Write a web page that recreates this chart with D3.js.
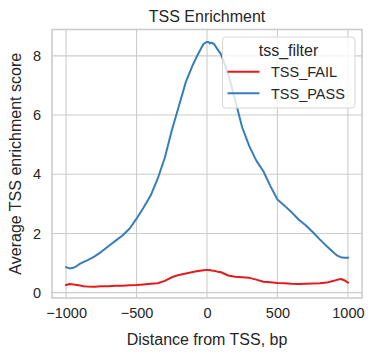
<!DOCTYPE html>
<html>
<head>
<meta charset="utf-8">
<script src="https://cdn.jsdelivr.net/npm/d3@7"></script>
<style>
html,body{margin:0;padding:0;background:#fff;}
svg{display:block;}
text{font-family:Arial,"Liberation Sans",sans-serif;fill:#262626;}
</style>
</head>
<body>
<svg id="chart" width="375" height="357"></svg>
<script>
const positions = [-1000,-975,-950,-925,-900,-875,-850,-800,-750,-700,-650,-600,-550,-500,-450,-400,-350,-300,-250,-200,-150,-100,-75,-50,-25,0,10,20,30,50,75,100,150,200,250,300,350,400,450,500,550,600,650,700,750,800,850,900,925,950,975,1000];
const passValues = [0.86,0.82,0.84,0.90,0.98,1.04,1.09,1.22,1.38,1.57,1.75,1.93,2.16,2.50,2.88,3.28,3.85,4.55,5.48,6.30,7.12,7.70,7.95,8.18,8.40,8.47,8.47,8.42,8.45,8.40,8.22,8.05,7.40,6.50,5.58,4.95,4.46,4.10,3.60,3.15,2.94,2.72,2.47,2.28,2.05,1.80,1.57,1.35,1.25,1.20,1.18,1.18];
const failValues = [0.26,0.29,0.28,0.26,0.24,0.22,0.21,0.20,0.22,0.22,0.23,0.23,0.25,0.26,0.28,0.30,0.32,0.40,0.52,0.60,0.65,0.70,0.72,0.74,0.76,0.77,0.76,0.77,0.75,0.74,0.71,0.69,0.58,0.54,0.52,0.50,0.44,0.37,0.35,0.33,0.32,0.30,0.29,0.30,0.31,0.32,0.34,0.40,0.44,0.46,0.42,0.34];
const seriesNames = ["TSS_FAIL","TSS_PASS"];
const seriesColors = ["#e41a1c","#377eb8"];
const xTicks = [-1000,-500,0,500,1000];
const yTicks = [0,2,4,6,8];

const svg = d3.select("#chart");
const L = 52, R = 362, T = 29.5, B = 298;
const x = d3.scaleLinear().domain([-1100,1100]).range([L,R]);
const y = d3.scaleLinear().domain([-0.18,8.89]).range([B,T]);

// grid
const g = svg.append("g");
g.selectAll(".vx").data(xTicks).enter().append("line")
  .attr("x1",d=>x(d)).attr("x2",d=>x(d)).attr("y1",T).attr("y2",B)
  .attr("stroke","#cccccc").attr("stroke-width",1.1);
g.selectAll(".hy").data(yTicks).enter().append("line")
  .attr("y1",d=>y(d)).attr("y2",d=>y(d)).attr("x1",L).attr("x2",R)
  .attr("stroke","#cccccc").attr("stroke-width",1.1);

// axes (tick labels via d3 axes)
const xAxis = d3.axisBottom(x).tickValues(xTicks).tickSize(0).tickPadding(10).tickFormat(d=>d3.format("")(d).replace("-","\u2212"));
const yAxis = d3.axisLeft(y).tickValues(yTicks).tickSize(0).tickPadding(11).tickFormat(d3.format("d"));
const gx = svg.append("g").attr("transform",`translate(0,${B})`).call(xAxis);
const gy = svg.append("g").attr("transform",`translate(${L},0)`).call(yAxis);
[gx,gy].forEach(a=>{a.select(".domain").remove(); a.selectAll("text").attr("font-size","14.5px").attr("fill","#262626").style("font-family","Arial, 'Liberation Sans', sans-serif");});

// lines
const series = [failValues, passValues];
const line = d3.line().x((d,i)=>x(positions[i])).y(d=>y(d));
series.forEach((vals,k)=>{
  svg.append("path").datum(vals).attr("d",line).attr("fill","none")
    .attr("stroke",seriesColors[k]).attr("stroke-width",2).attr("stroke-linejoin","round").attr("stroke-linecap","square");
});

// frame
svg.append("rect").attr("x",L).attr("y",T).attr("width",R-L).attr("height",B-T)
  .attr("fill","none").attr("stroke","#cccccc").attr("stroke-width",1.6);

// title & labels
svg.append("text").attr("x",(L+R)/2).attr("y",21.5).attr("text-anchor","middle").attr("font-size","16px").text("TSS Enrichment");
svg.append("text").attr("x",(L+R)/2).attr("y",345).attr("text-anchor","middle").attr("font-size","16px").text("Distance from TSS, bp");
svg.append("text").attr("transform",`translate(21,${(T+B)/2}) rotate(-90)`).attr("text-anchor","middle").attr("font-size","16px").text("Average TSS enrichment score");

// legend
const lg = svg.append("g");
lg.append("rect").attr("x",222.5).attr("y",37).attr("width",132.5).attr("height",71).attr("rx",3)
  .attr("fill","rgba(255,255,255,0.8)").attr("stroke","#d6d6d6").attr("stroke-width",1);
lg.append("text").attr("x",288.5).attr("y",56).attr("text-anchor","middle").attr("font-size","16px").text("tss_filter");
seriesNames.forEach((n,i)=>{
  const yy = 71.7 + i*21.6;
  lg.append("line").attr("x1",227.5).attr("x2",259.5).attr("y1",yy).attr("y2",yy).attr("stroke",seriesColors[i]).attr("stroke-width",2);
  lg.append("text").attr("x",271).attr("y",yy+5.3).attr("font-size","14.5px").text(n);
});
</script>
</body>
</html>
